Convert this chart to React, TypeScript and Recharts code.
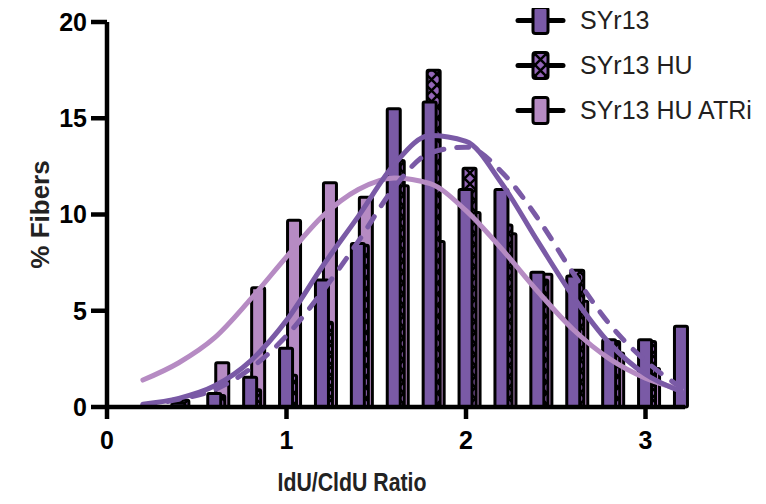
import {
  Bar,
  ComposedChart,
  Label,
  Legend,
  Line,
  XAxis,
  YAxis,
} from "recharts";

// histogram bins (IdU/CldU ratio) and % fibers per bin
const bins = [0.2, 0.4, 0.6, 0.8, 1.0, 1.2, 1.4, 1.6, 1.8, 2.0, 2.2, 2.4, 2.6, 2.8, 3.0, 3.2];
const syr13 = [0, 0.2, 0.7, 1.55, 3.05, 6.6, 8.5, 15.5, 15.85, 11.3, 11.3, 7.0, 6.8, 3.5, 3.5, 4.2];
const syr13Hu = [0, 0.35, 0.6, 0.9, 1.65, 4.4, 8.4, 12.8, 17.5, 12.4, 9.45, 6.6, 7.1, 3.4, 3.4, 0];
const syr13HuAtri = [0, 0, 2.3, 6.2, 9.7, 11.65, 10.9, 11.5, 8.6, 10.1, 9.0, 6.9, 5.5, 2.8, 2.0, 0];

// gaussian fit curves read at the bin positions
const fitSyr13 = [0.15, 0.45, 1.1, 2.4, 4.5, 7.3, 9.9, 12.6, 14.1, 13.8, 11.6, 8.6, 5.7, 3.3, 1.7, 0.8];
const fitHu = [0.1, 0.4, 0.9, 2.0, 3.7, 6.0, 8.6, 11.4, 13.2, 13.5, 12.2, 9.8, 6.9, 4.3, 2.4, 1.0];
const fitAtri = [1.4, 2.3, 3.6, 5.6, 7.8, 9.9, 11.3, 11.9, 11.6, 10.2, 8.2, 6.0, 4.0, 2.5, 1.5, 0.9];

const xTicks = [0, 1, 2, 3];
const yTicks = [0, 5, 10, 15, 20];

const DARK = "#7a5aa6";
const LIGHT = "#b68bc3";
const FONT = "'Liberation Sans', Arial, Helvetica, sans-serif";
const SHIFT = 4;

const rows = bins.map((bin, i) => ({
  bin,
  syr13: syr13[i],
  syr13Hu: syr13Hu[i],
  syr13HuAtri: syr13HuAtri[i],
  fitSyr13: fitSyr13[i],
  fitHu: fitHu[i],
  fitAtri: fitAtri[i],
}));

const legendItems = [
  { name: "SYr13", fill: DARK },
  { name: "SYr13 HU", fill: "url(#huHatch)" },
  { name: "SYr13 HU ATRi", fill: LIGHT },
];

function barShape(fill: string) {
  return (props: any) => {
    const { x, y, width, height } = props;
    if (!height || height <= 0) return <g />;
    return (
      <rect
        x={x + SHIFT}
        y={y}
        width={width}
        height={height}
        fill={fill}
        stroke="#000"
        strokeWidth={3}
        rx={1.5}
      />
    );
  };
}

function FiberLegend() {
  return (
    <div style={{ fontFamily: FONT, fontSize: 25, color: "#231f20" }}>
      {legendItems.map((item) => (
        <div key={item.name} style={{ display: "flex", alignItems: "center", height: 45 }}>
          <svg width={67} height={45}>
            <line x1={5} x2={50} y1={22.5} y2={22.5} stroke="#000" strokeWidth={5} strokeLinecap="round" />
            <rect x={20} y={9.5} width={15} height={26} rx={2.5} fill={item.fill} stroke="#000" strokeWidth={3} />
          </svg>
          <span>{item.name}</span>
        </div>
      ))}
    </div>
  );
}

function XTitle(props: any) {
  const vb = props.viewBox;
  return (
    <text
      x={vb.x + vb.width / 2 - 44}
      y={vb.y + vb.height - 6}
      textAnchor="middle"
      textLength={149}
      lengthAdjust="spacingAndGlyphs"
      fill="#222"
      fontSize={26}
      fontWeight={700}
      fontFamily={FONT}
    >
      IdU/CldU Ratio
    </text>
  );
}

export default function App() {
  const tick = { fill: "#000", fontSize: 25, fontWeight: 700, fontFamily: FONT };
  const axisStroke = { stroke: "#000", strokeWidth: 4.5 };
  return (
    <div style={{ width: 758, height: 496, position: "relative" }}>
      <ComposedChart
        width={758}
        height={496}
        data={rows}
        margin={{ top: 14, right: 81, bottom: 7, left: 39 }}
        barGap={-17}
      >
        <defs>
          <pattern id="huHatch" width={11} height={11} patternUnits="userSpaceOnUse">
            <rect width={11} height={11} fill="#9466b8" />
            <path d="M0 0L11 11M11 0L0 11" stroke="#000" strokeWidth={2.5} />
          </pattern>
        </defs>
        <XAxis
          type="number"
          dataKey="bin"
          domain={[0, 3.22]}
          ticks={xTicks}
          interval={0}
          tickSize={12}
          tickMargin={12}
          tick={tick}
          tickLine={axisStroke}
          axisLine={axisStroke}
          height={90}
        >
          <Label content={XTitle} position="insideBottom" />
        </XAxis>
        <YAxis
          type="number"
          domain={[0, 20]}
          ticks={yTicks}
          interval={0}
          width={60}
          tickSize={16}
          tickMargin={4}
          tick={tick}
          tickLine={axisStroke}
          axisLine={axisStroke}
        >
          <Label
            value="% Fibers"
            angle={-90}
            position="insideLeft"
            offset={-7}
            style={{ textAnchor: "middle", fill: "#222", fontSize: 26, fontWeight: 700, fontFamily: FONT }}
          />
        </YAxis>
        <Legend
          layout="vertical"
          align="center"
          verticalAlign="middle"
          content={() => <FiberLegend />}
          wrapperStyle={{ top: -10, left: 505, width: 260, bottom: "auto", right: "auto" }}
        />
        <Bar dataKey="syr13HuAtri" name="SYr13 HU ATRi" barSize={13} shape={barShape(LIGHT)} isAnimationActive={false} />
        <Bar dataKey="syr13Hu" name="SYr13 HU" barSize={13} shape={barShape("url(#huHatch)")} isAnimationActive={false} />
        <Bar dataKey="syr13" name="SYr13" barSize={13} shape={barShape(DARK)} isAnimationActive={false} />
        <Line type="monotone" dataKey="fitAtri" stroke={LIGHT} strokeWidth={5} strokeLinecap="round" dot={false} activeDot={false} isAnimationActive={false} />
        <Line type="monotone" dataKey="fitSyr13" stroke={DARK} strokeWidth={5} strokeLinecap="round" dot={false} activeDot={false} isAnimationActive={false} />
        <Line type="monotone" dataKey="fitHu" stroke={DARK} strokeWidth={5} strokeLinecap="round" strokeDasharray="12 13" dot={false} activeDot={false} isAnimationActive={false} />
      </ComposedChart>
    </div>
  );
}
